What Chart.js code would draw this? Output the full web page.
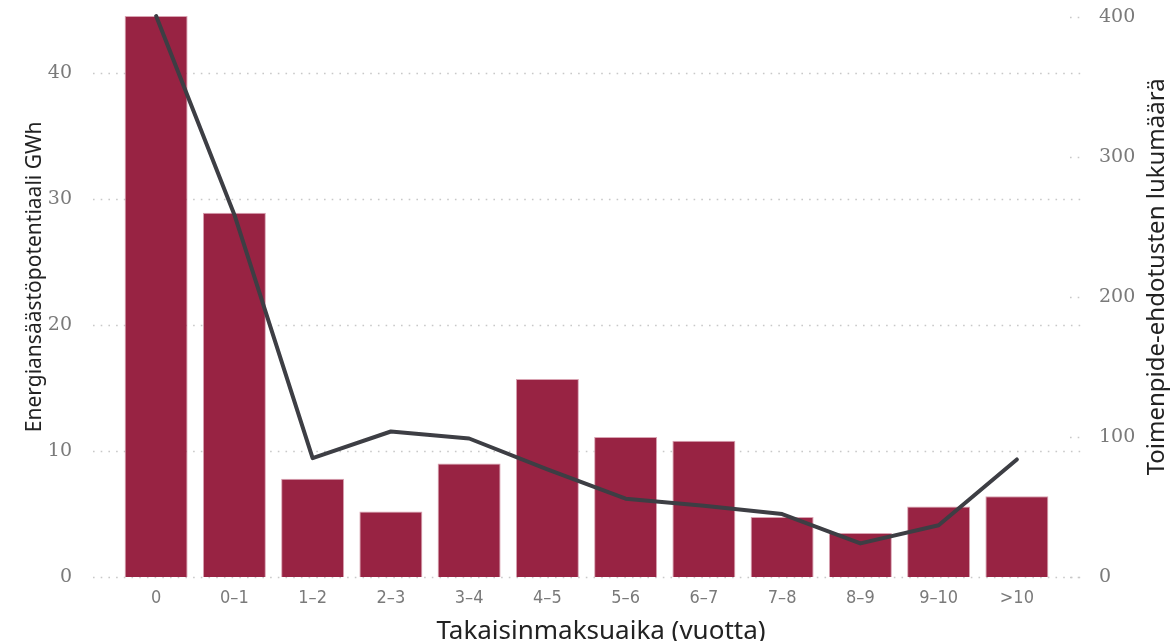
<!DOCTYPE html>
<html>
<head>
<meta charset="utf-8">
<script src="https://cdn.jsdelivr.net/npm/chart.js@4"></script>
<style>
html,body{margin:0;padding:0;background:#fff;}
#wrap{width:1170px;height:641px;position:relative;}
</style>
</head>
<body>
<div id="wrap"><canvas id="c" width="1170" height="641"></canvas></div>
<script>
const categories = ["0","0–1","1–2","2–3","3–4","4–5","5–6","6–7","7–8","8–9","9–10",">10"];
const savingsGWh = [44.5, 28.9, 7.8, 5.2, 9.0, 15.7, 11.1, 10.8, 4.75, 3.5, 5.6, 6.4];
const proposalCount = [401, 259, 85, 104, 99, 77, 56, 51, 45, 24, 37, 84];
const leftTicks = [0, 10, 20, 30, 40];
const rightTicks = [0, 100, 200, 300, 400];
const leftTitle = "Energiansäästöpotentiaali GWh";
const rightTitle = "Toimenpide-ehdotusten lukumäärä";
const xTitle = "Takaisinmaksuaika (vuotta)";

const dotted = {
  id: 'dotted',
  beforeDatasetsDraw(chart) {
    const ctx = chart.ctx, a = chart.chartArea;
    const yl = chart.scales.y, yr = chart.scales.y2;
    ctx.save();
    ctx.strokeStyle = '#c8c8c8';
    ctx.lineWidth = 1.6;
    ctx.setLineDash([1.6, 6.1]);
    ctx.lineCap = 'butt';
    leftTicks.forEach(v => {
      const y = Math.round(yl.getPixelForValue(v)) + 0.5;
      ctx.beginPath(); ctx.moveTo(a.left - 24, y); ctx.lineTo(a.right + 26, y); ctx.stroke();
    });
    rightTicks.forEach(v => {
      const y = Math.round(yr.getPixelForValue(v)) + 0.5;
      ctx.beginPath(); ctx.moveTo(a.right + 14, y); ctx.lineTo(a.right + 28, y); ctx.stroke();
    });
    ctx.restore();
  },
  afterDraw(chart) {
    const ctx = chart.ctx, a = chart.chartArea;
    ctx.save();
    ctx.fillStyle = '#222';
    ctx.textAlign = 'center';
    ctx.textBaseline = 'middle';
    const cy = a.top + (a.bottom - a.top) * 0.465;
    ctx.font = '21px "Noto Sans"';
    ctx.save(); ctx.translate(35, cy); ctx.rotate(-Math.PI / 2); ctx.fillText(leftTitle, 0, 0); ctx.restore();
    ctx.font = '24px "Noto Sans"';
    ctx.save(); ctx.translate(1157, cy); ctx.rotate(-Math.PI / 2); ctx.fillText(rightTitle, 0, 0); ctx.restore();
    ctx.font = '26px "Noto Sans"';
    ctx.textBaseline = 'alphabetic';
    ctx.fillText(xTitle, 601, 639);
    ctx.restore();
  }
};

function fixW(w) {
  return function (s) { s.width = w; s.paddingTop = 0; s.paddingBottom = 0; };
}

new Chart(document.getElementById('c'), {
  data: {
    labels: categories,
    datasets: [
      {
        type: 'line', data: proposalCount, yAxisID: 'y2',
        borderColor: '#3d3e44', borderWidth: 4, pointRadius: 0, tension: 0, order: 0,
        borderJoinStyle: 'round', borderCapStyle: 'round', clip: false
      },
      {
        type: 'bar', data: savingsGWh, yAxisID: 'y',
        backgroundColor: '#982343', borderColor: '#d9a3b2', borderWidth: 1,
        barPercentage: 0.805, categoryPercentage: 1, order: 1
      }
    ]
  },
  options: {
    responsive: false, animation: false,
    layout: { padding: { top: 16, left: 0, right: 0, bottom: 0 } },
    plugins: { legend: { display: false }, tooltip: { enabled: false } },
    scales: {
      x: {
        grid: { display: false }, border: { display: false },
        ticks: { color: '#7a7a7a', font: { family: '"DejaVu Sans Condensed"', size: 18 }, padding: 3, maxRotation: 0 },
        afterFit(s) { s.height = 64; s.paddingLeft = 0; s.paddingRight = 0; }
      },
      y: {
        position: 'left', min: 0, max: 44.5,
        grid: { display: false }, border: { display: false },
        afterBuildTicks(s) { s.ticks = leftTicks.map(v => ({ value: v })); },
        ticks: { color: '#7a7a7a', font: { family: '"DejaVu Serif"', size: 19 }, padding: 37 },
        afterFit: fixW(117)
      },
      y2: {
        position: 'right', min: 0, max: 401,
        grid: { display: false }, border: { display: false },
        afterBuildTicks(s) { s.ticks = rightTicks.map(v => ({ value: v })); },
        ticks: { color: '#7a7a7a', font: { family: '"DejaVu Serif"', size: 19 }, padding: 35 },
        afterFit: fixW(114)
      }
    }
  },
  plugins: [dotted]
});
</script>
</body>
</html>
